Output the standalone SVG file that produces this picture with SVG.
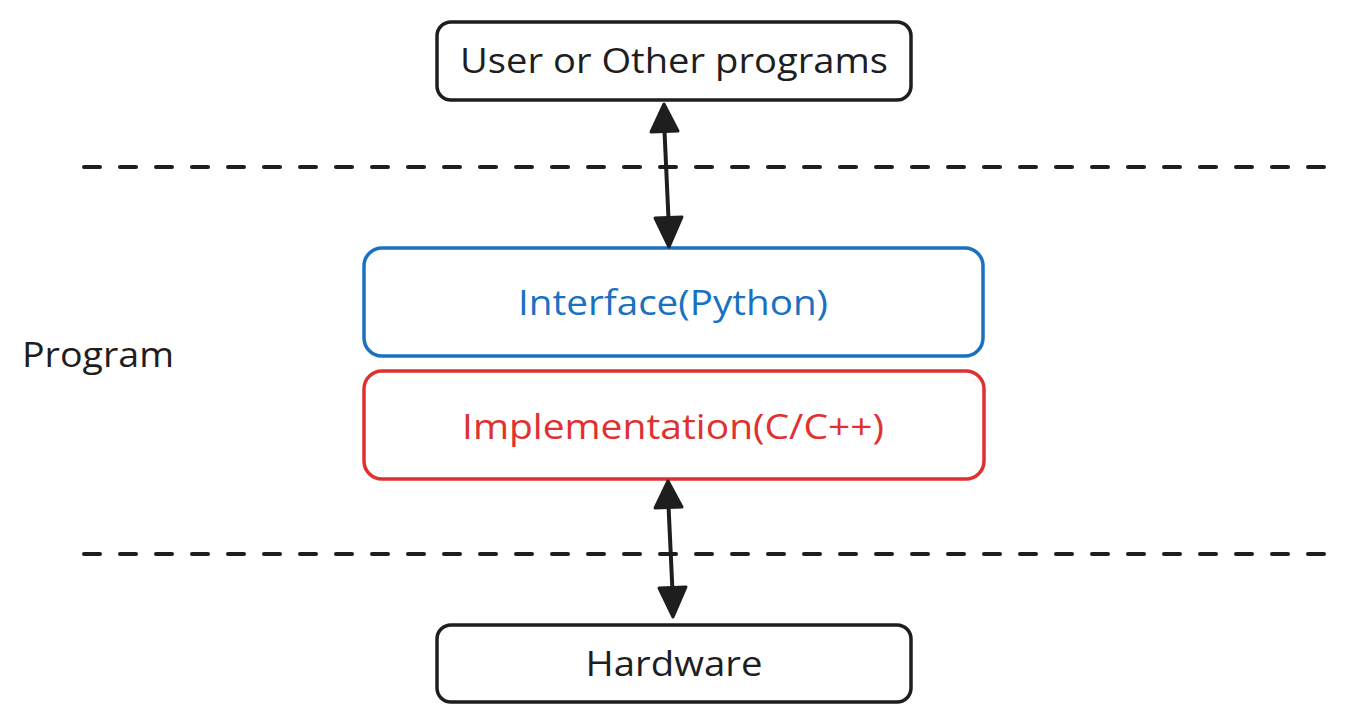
<svg xmlns="http://www.w3.org/2000/svg" width="1359" height="722" viewBox="0 0 1359 722">
<defs>
<style>
.box{fill:#fff;stroke-width:3.5;}
.blk{stroke:#1e1e1e;}
.blue{stroke:#1971c2;}
.red{stroke:#e03131;}
.t{font-family:"Open Sans",Lato,sans-serif;font-size:34px;text-anchor:middle;}
.dash{stroke:#1e1e1e;stroke-width:4;stroke-dasharray:16 20;stroke-linecap:round;fill:none;}
.conn{stroke:#1e1e1e;stroke-width:4;fill:none;stroke-linecap:round;}
.head{fill:#1e1e1e;stroke:#1e1e1e;stroke-width:3;stroke-linejoin:round;}
</style>
</defs>
<rect width="1359" height="722" fill="#fff"/>
<line class="dash" x1="84" y1="167" x2="1325" y2="167"/>
<line class="dash" x1="84" y1="554" x2="1325" y2="554"/>
<g id="label-program"><text x="22" y="367" font-family="'Open Sans',Lato,sans-serif" font-size="34" fill="#1e1e1e" textLength="152" lengthAdjust="spacingAndGlyphs">Program</text></g>
<g id="node-user"><rect class="box blk" x="437" y="22" width="474" height="78" rx="14"/><text class="t" x="674" y="73" fill="#1e1e1e" textLength="428" lengthAdjust="spacingAndGlyphs">User or Other programs</text></g>
<g id="node-interface"><rect class="box blue" x="364" y="248" width="619" height="108" rx="18"/><text class="t" x="673" y="315" fill="#1971c2" textLength="310" lengthAdjust="spacingAndGlyphs">Interface(Python)</text></g>
<g id="node-impl"><rect class="box red" x="364" y="371" width="620" height="108" rx="18"/><text class="t" x="673" y="439" fill="#e03131" textLength="422" lengthAdjust="spacingAndGlyphs">Implementation(C/C++)</text></g>
<g id="node-hardware"><rect class="box blk" x="437" y="625" width="474" height="77" rx="14"/><text class="t" x="674" y="676" fill="#1e1e1e" textLength="177" lengthAdjust="spacingAndGlyphs">Hardware</text></g>
<g id="connectors">
<line class="conn" x1="664" y1="120" x2="669" y2="230"/>
<polygon class="head" points="664,104 651,132 678,131"/>
<polygon class="head" points="669,247 655,218 682,217"/>
<line class="conn" x1="668" y1="495" x2="673" y2="602"/>
<polygon class="head" points="668,481 655,508 682,507"/>
<polygon class="head" points="673,617 659,588 686,587"/>
</g>
</svg>
